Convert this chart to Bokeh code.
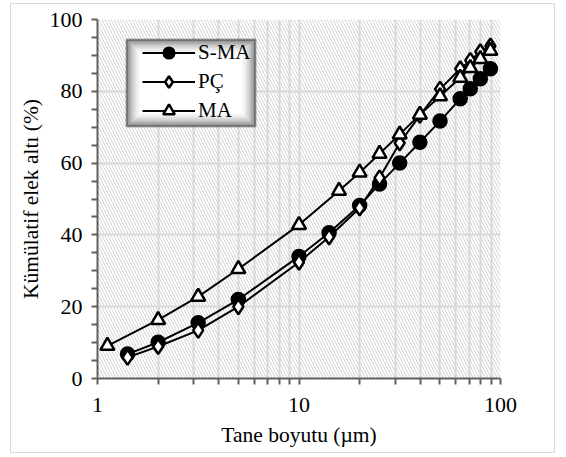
from bokeh.plotting import figure
from bokeh.models import (FixedTicker, BasicTickFormatter, Legend, LegendItem,
                          BoxAnnotation, Range1d)
from bokeh.embed import file_html
from bokeh.resources import INLINE

# ---- data ----
series_names = ["S-MA", "PÇ", "MA"]

x_sma = [1.41, 2.0, 3.16, 5.0, 10.0, 14.1, 20.0, 25.1, 31.6, 39.8, 50.1, 63.1, 70.8, 79.4, 89.1]
y_sma = [6.8, 10.1, 15.5, 22.0, 34.0, 40.6, 48.2, 54.2, 60.0, 65.8, 71.7, 77.9, 80.7, 83.5, 86.3]

x_pc = [1.41, 2.0, 3.16, 5.0, 10.0, 14.1, 20.0, 25.1, 31.6, 39.8, 50.1, 63.1, 70.8, 79.4, 89.1]
y_pc = [5.9, 8.9, 13.4, 20.0, 32.4, 39.4, 47.5, 55.9, 65.6, 73.3, 80.6, 86.3, 88.6, 91.0, 92.6]

x_ma = [1.12, 2.0, 3.16, 5.0, 10.0, 15.8, 20.0, 25.1, 31.6, 39.8, 50.1, 63.1, 70.8, 79.4, 89.1]
y_ma = [9.1, 16.3, 22.8, 30.5, 42.8, 52.3, 57.4, 62.6, 68.0, 73.5, 78.6, 83.8, 86.5, 89.0, 91.3]

x_major_ticks = [1, 10, 100]
x_minor_ticks = [2, 3, 4, 5, 6, 7, 8, 9, 20, 30, 40, 50, 60, 70, 80, 90]
y_major_ticks = [0, 20, 40, 60, 80, 100]
y_minor_ticks = [5, 10, 15, 25, 30, 35, 45, 50, 55, 65, 70, 75, 85, 90, 95]

x_label = "Tane boyutu (µm)"
y_label = "Kümülatif elek altı (%)"

FONT = "'Liberation Serif'"
FS_TICK = "22px"
FS_TITLE = "21.5px"
FS_LEG = "21px"
GRID = "#d9d9d9"
AXIS = "#606060"

p = figure(width=545, height=450, x_axis_type="log",
           x_range=Range1d(1, 100), y_range=Range1d(0, 100),
           output_backend="svg", toolbar_location=None,
           min_border_left=86, min_border_right=56,
           min_border_top=15, min_border_bottom=76)
p.outline_line_color = None
p.styles = {"margin": "3px 0px 0px 10px", "border": "1px solid #d9d9d9"}

# hatched plot-area background
hatch = BoxAnnotation(fill_alpha=0, line_color=None, hatch_pattern="\\",
                      hatch_color="#d4d4d4", hatch_scale=6, hatch_weight=1,
                      level="image")
p.add_layout(hatch)

# axes
p.xaxis.ticker = FixedTicker(ticks=x_major_ticks, minor_ticks=x_minor_ticks)
p.xaxis.formatter = BasicTickFormatter()
p.yaxis.ticker = FixedTicker(ticks=y_major_ticks, minor_ticks=y_minor_ticks)

for ax in (p.xaxis[0], p.yaxis[0]):
    ax.axis_line_color = AXIS
    ax.axis_line_width = 2
    ax.major_tick_line_color = AXIS
    ax.minor_tick_line_color = AXIS
    ax.major_tick_line_width = 2
    ax.minor_tick_line_width = 2
    ax.major_tick_in = 0
    ax.major_tick_out = 6
    ax.minor_tick_in = 0
    ax.minor_tick_out = 6
    ax.major_label_text_font = FONT
    ax.major_label_text_font_size = FS_TICK
    ax.major_label_text_color = "black"
    ax.axis_label_text_font = FONT
    ax.axis_label_text_font_size = FS_TITLE
    ax.axis_label_text_font_style = "normal"
    ax.axis_label_text_color = "black"

p.xaxis.axis_label = x_label
p.yaxis.axis_label = y_label
p.xaxis.major_label_standoff = 13
p.xaxis.axis_label_standoff = 8
p.yaxis.major_label_standoff = 9
p.yaxis.axis_label_standoff = 4

# grids
p.xgrid.grid_line_color = GRID
p.xgrid.grid_line_width = 2
p.xgrid.minor_grid_line_color = GRID
p.xgrid.minor_grid_line_width = 2
p.ygrid.grid_line_color = GRID
p.ygrid.grid_line_width = 2

# series
l1 = p.line(x_sma, y_sma, line_color="black", line_width=2)
s1 = p.scatter(x_sma, y_sma, marker="circle", size=14, fill_color="black",
               line_color="black", line_width=1.5)
l2 = p.line(x_pc, y_pc, line_color="black", line_width=2)
s2 = p.scatter(x_pc, y_pc, marker="diamond", size=15, fill_color="white",
               line_color="black", line_width=2.5)
l3 = p.line(x_ma, y_ma, line_color="black", line_width=2)
s3 = p.scatter(x_ma, y_ma, marker="triangle", size=14, fill_color="white",
               line_color="black", line_width=2.5)

# legend frame with soft inner shading
L, T, R, B = 114, 34, 243, 121
shades = ["#858585", "#999999", "#acacac", "#bdbdbd", "#cccccc", "#d9d9d9",
          "#e4e4e4", "#eeeeee", "#f5f5f5", "#fbfbfb", "#ffffff"]
for i, c in enumerate(shades):
    d = i * 1.4
    box = BoxAnnotation(left=L + d, right=R - d, top=T + d, bottom=B - d,
                        left_units="canvas", right_units="canvas",
                        top_units="canvas", bottom_units="canvas",
                        fill_color=c, fill_alpha=1.0,
                        line_color="black" if i == 0 else None,
                        line_width=2)
    p.add_layout(box)

legend = Legend(items=[
    LegendItem(label=series_names[0], renderers=[l1, s1]),
    LegendItem(label=series_names[1], renderers=[l2, s2]),
    LegendItem(label=series_names[2], renderers=[l3, s3]),
], location=(45, 253), margin=0, padding=0, spacing=0,
    glyph_width=53, glyph_height=29, label_height=29, label_standoff=3,
    label_text_font=FONT, label_text_font_size=FS_LEG, label_text_color="black",
    background_fill_alpha=0, border_line_color=None)
p.add_layout(legend)

open("out.html", "w").write(file_html(p, INLINE))
